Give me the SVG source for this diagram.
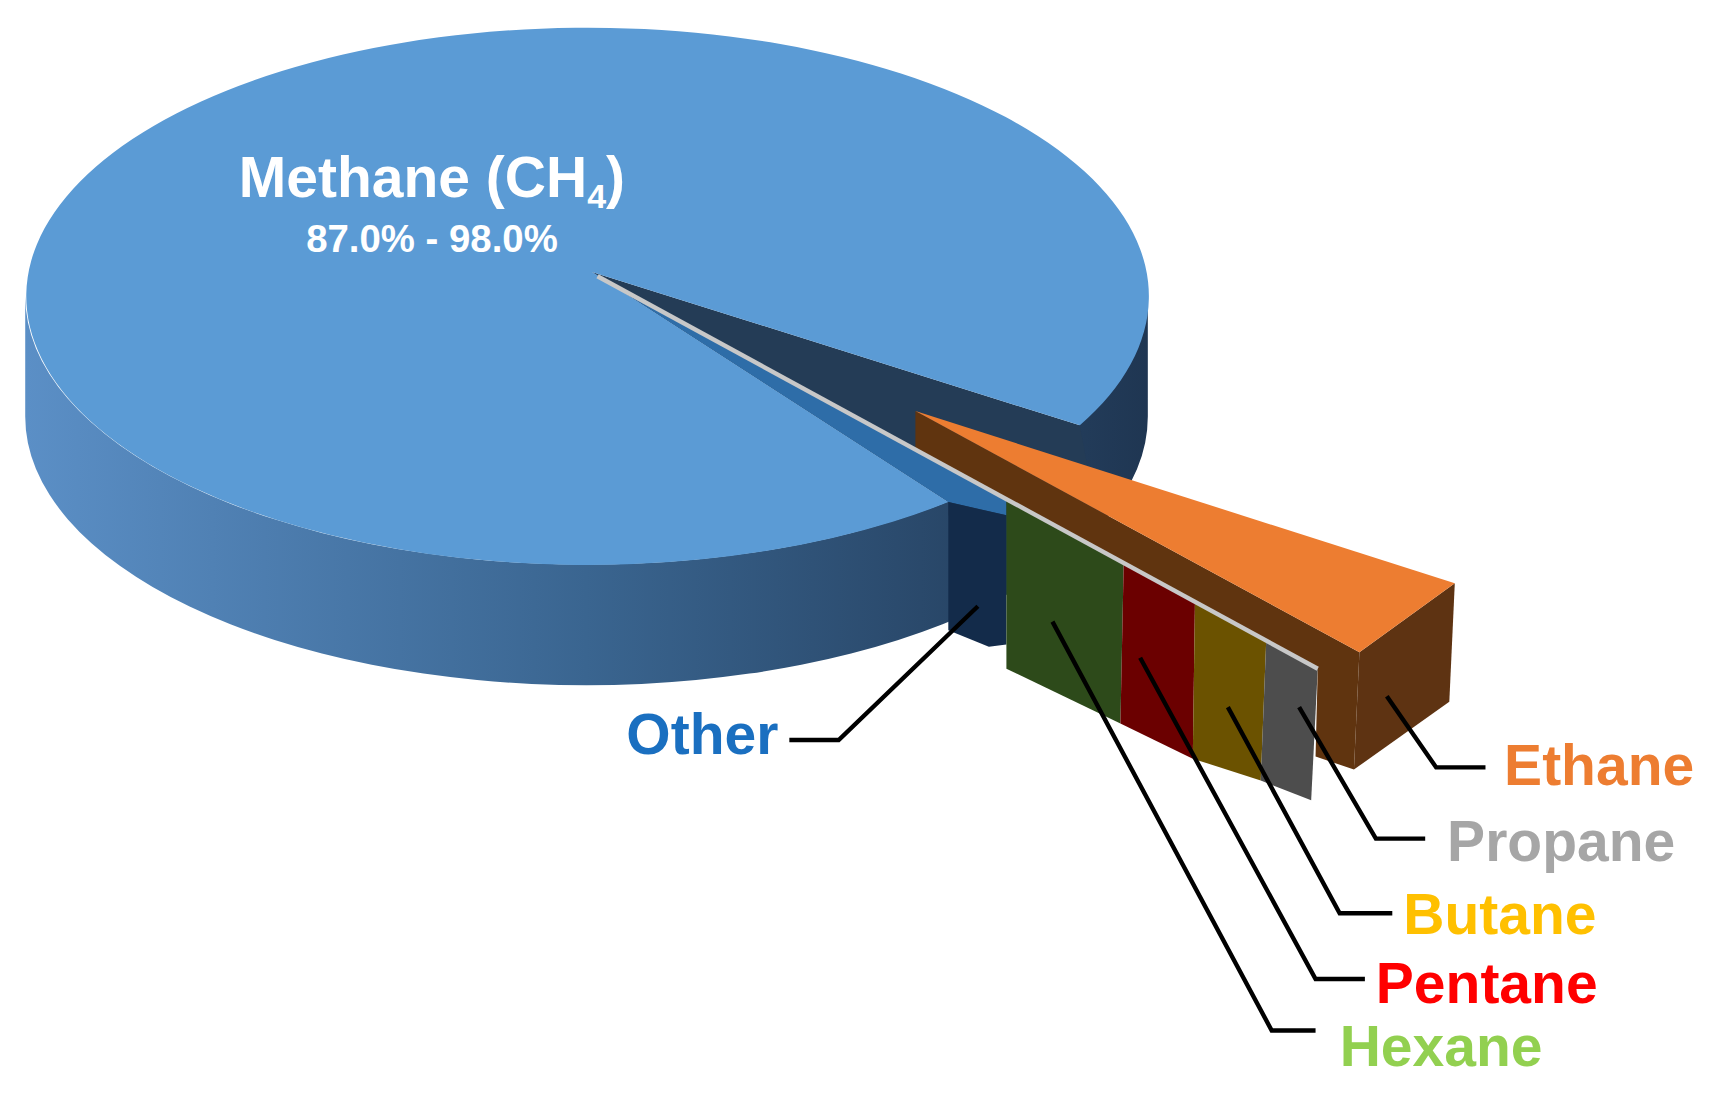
<svg xmlns="http://www.w3.org/2000/svg" width="1719" height="1094" viewBox="0 0 1719 1094">
<defs>
<linearGradient id="side" x1="0" x2="1" y1="0" y2="0">
<stop offset="0" stop-color="#5b8fc6"/><stop offset="0.5" stop-color="#3a6590"/><stop offset="1" stop-color="#1f3652"/>
</linearGradient>
<style>
.lbl{font-family:"Liberation Sans",Arial,sans-serif;font-weight:bold}
.ld{fill:none;stroke:#000;stroke-width:4}
</style>
</defs>
<rect width="1719" height="1094" fill="#fff"/>
<g transform="scale(1.0963)">
<g id="methane">
<path d="M23,270 L23,380 A512,245 0 0 0 1047,380 L1047,270 A512,245 0 0 1 23,270 Z" fill="url(#side)"/>
<polygon points="540,248 985,388 1000,470 865,470 865,458" fill="#243c56"/>
<path d="M540,248 L865,458 A512,245 0 1 1 985,388 Z" fill="#5b9bd5"/>
<text class="lbl" x="394" y="180" text-anchor="middle" fill="#fff" font-size="52">Methane (CH<tspan font-size="31" dy="10">4</tspan><tspan dy="-10">)</tspan></text>
<text class="lbl" x="394" y="230" text-anchor="middle" fill="#fff" font-size="35">87.0% - 98.0%</text>
</g>
<g id="other">
<polygon points="540,248 865,458 918,470 918,455" fill="#2e6da8"/>
<polygon points="865,458 918,470 918,588 902,590 865,575" fill="#132b4a"/>
<text class="lbl" x="710" y="688" text-anchor="end" fill="#1a6fc0" font-size="52">Other</text>
</g>
<g id="hexane">
<polygon points="918,455 1025,513 1022,660 918,610" fill="#2d4a1a"/>
<text class="lbl" x="1222" y="972" fill="#92d050" font-size="52">Hexane</text>
</g>
<g id="pentane">
<polygon points="1025,513 1090,549 1088,692 1022,660" fill="#6b0000"/>
<text class="lbl" x="1255" y="915" fill="#ff0000" font-size="52">Pentane</text>
</g>
<g id="butane">
<polygon points="1090,549 1155,584 1150,712 1088,692" fill="#6b5200"/>
<text class="lbl" x="1280" y="852" fill="#ffc000" font-size="52">Butane</text>
</g>
<g id="propane">
<polygon points="1155,584 1202,610 1196,730 1150,712" fill="#4d4d4d"/>
<text class="lbl" x="1320" y="785" fill="#a6a6a6" font-size="52">Propane</text>
</g>
<g id="ethane">
<polygon points="835,375 1240,595 1235,702 1200,690 1202,610 835,410" fill="#60340f"/>
<polygon points="1240,595 1327,532 1322,640 1235,702" fill="#5e3312"/>
<polygon points="835,375 1327,532 1240,595" fill="#ed7d31"/>
<line x1="545" y1="252" x2="1202" y2="610" stroke="#c8c8c8" stroke-width="4"/>
<text class="lbl" x="1372" y="716" fill="#ed7d31" font-size="52">Ethane</text>
</g>
<g id="connectors">
<polyline class="ld" points="892,553 765,675 720,675"/>
<polyline class="ld" points="960,567 1160,940 1200,940"/>
<polyline class="ld" points="1040,600 1200,893 1245,893"/>
<polyline class="ld" points="1120,645 1222,833 1270,833"/>
<polyline class="ld" points="1185,645 1255,765 1300,765"/>
<polyline class="ld" points="1265,635 1310,700 1355,700"/>
</g>
</g>
</svg>
